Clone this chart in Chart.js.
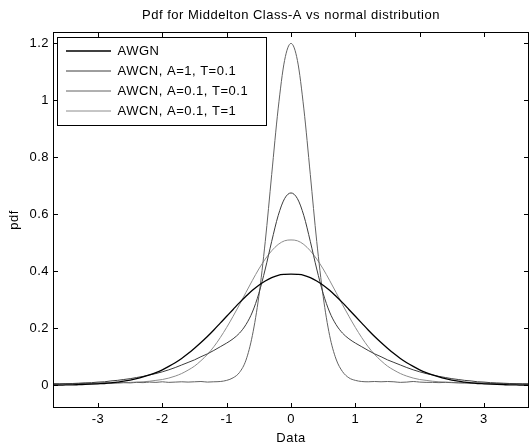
<!DOCTYPE html>
<html>
<head>
<meta charset="utf-8">
<script src="https://cdn.jsdelivr.net/npm/chart.js@4/dist/chart.umd.min.js"></script>
<style>
  html, body { margin: 0; padding: 0; background: #fff; }
  #wrap { width: 530px; height: 445px; }
</style>
</head>
<body>
<div id="wrap"><canvas id="pdfChart"></canvas></div>
<script>
// sample points along the Data axis
const xs = [
  -3.7, -3.6, -3.5, -3.4, -3.3, -3.2, -3.1, -3.0, -2.9, -2.8, -2.7, -2.6, -2.5, -2.4, -2.3, -2.2, -2.1, -2.0, -1.9,
  -1.8, -1.7, -1.6, -1.5, -1.4, -1.3, -1.2, -1.1, -1.0, -0.9, -0.8, -0.7, -0.6, -0.5, -0.4, -0.3, -0.2, -0.1,
  0.0,
  0.1, 0.2, 0.3, 0.4, 0.5, 0.6, 0.7, 0.8, 0.9, 1.0, 1.1, 1.2, 1.3, 1.4, 1.5, 1.6, 1.7, 1.8, 1.9,
  2.0, 2.1, 2.2, 2.3, 2.4, 2.5, 2.6, 2.7, 2.8, 2.9, 3.0, 3.1, 3.2, 3.3, 3.4, 3.5, 3.6, 3.7
];

const awgn = [
  0.000, 0.000, 0.001, 0.001, 0.002, 0.003, 0.004, 0.005, 0.006, 0.008, 0.011, 0.014, 0.018, 0.023, 0.029, 0.036, 0.044, 0.054, 0.066,
  0.079, 0.094, 0.111, 0.130, 0.150, 0.171, 0.194, 0.218, 0.242, 0.266, 0.290, 0.312, 0.333, 0.351, 0.366, 0.378, 0.386, 0.389,
  0.390,
  0.389, 0.386, 0.378, 0.366, 0.351, 0.333, 0.312, 0.290, 0.266, 0.242, 0.218, 0.194, 0.171, 0.150, 0.130, 0.111, 0.094, 0.079, 0.066,
  0.054, 0.044, 0.036, 0.029, 0.023, 0.018, 0.014, 0.011, 0.008, 0.006, 0.005, 0.004, 0.003, 0.002, 0.001, 0.001, 0.000, 0.000
];

const awcnA1T01 = [
  0.004, 0.004, 0.005, 0.006, 0.007, 0.008, 0.009, 0.011, 0.012, 0.015, 0.017, 0.020, 0.023, 0.027, 0.031, 0.036, 0.041, 0.047, 0.054,
  0.062, 0.071, 0.080, 0.089, 0.100, 0.110, 0.122, 0.135, 0.148, 0.163, 0.183, 0.213, 0.257, 0.322, 0.408, 0.505, 0.595, 0.655,
  0.675,
  0.655, 0.595, 0.505, 0.408, 0.322, 0.257, 0.213, 0.183, 0.163, 0.148, 0.135, 0.122, 0.110, 0.100, 0.089, 0.080, 0.071, 0.062, 0.054,
  0.047, 0.041, 0.036, 0.031, 0.027, 0.023, 0.020, 0.017, 0.015, 0.012, 0.011, 0.009, 0.008, 0.007, 0.006, 0.005, 0.004, 0.004
];

const awcnA01T01 = [
  0.006, 0.005, 0.006, 0.005, 0.006, 0.007, 0.006, 0.007, 0.008, 0.007, 0.008, 0.009, 0.008, 0.010, 0.009, 0.011, 0.010, 0.012, 0.010,
  0.011, 0.012, 0.011, 0.012, 0.013, 0.011, 0.012, 0.013, 0.017, 0.026, 0.045, 0.088, 0.175, 0.312, 0.505, 0.740, 0.970, 1.140,
  1.200,
  1.140, 0.970, 0.740, 0.505, 0.312, 0.175, 0.092, 0.048, 0.026, 0.017, 0.013, 0.012, 0.013, 0.012, 0.013, 0.012, 0.010, 0.011, 0.013,
  0.011, 0.010, 0.010, 0.009, 0.010, 0.009, 0.008, 0.008, 0.007, 0.007, 0.007, 0.006, 0.006, 0.006, 0.005, 0.005, 0.005, 0.005
];

const awcnA01T1 = [
  0.004, 0.005, 0.005, 0.005, 0.006, 0.006, 0.006, 0.007, 0.007, 0.008, 0.008, 0.009, 0.010, 0.011, 0.012, 0.014, 0.017, 0.020, 0.025,
  0.032, 0.041, 0.053, 0.067, 0.086, 0.108, 0.135, 0.167, 0.203, 0.242, 0.283, 0.326, 0.368, 0.408, 0.443, 0.472, 0.494, 0.507,
  0.510,
  0.507, 0.494, 0.472, 0.443, 0.408, 0.368, 0.326, 0.283, 0.242, 0.203, 0.167, 0.135, 0.108, 0.086, 0.067, 0.053, 0.041, 0.032, 0.025,
  0.020, 0.017, 0.014, 0.012, 0.011, 0.010, 0.009, 0.008, 0.008, 0.007, 0.007, 0.006, 0.006, 0.006, 0.005, 0.005, 0.005, 0.004
];

const seriesNames = ['AWGN', 'AWCN, A=1, T=0.1', 'AWCN, A=0.1, T=0.1', 'AWCN, A=0.1, T=1'];
const seriesColors = ['#000000', '#3c3c3c', '#626262', '#8c8c8c'];
const seriesWidths = [1.3, 1, 1, 1];

const xTicks = [-3, -2, -1, 0, 1, 2, 3];
const xTickLabels = ['-3', '-2', '-1', '0', '1', '2', '3'];
const yTicks = [0, 0.2, 0.4, 0.6, 0.8, 1, 1.2];
const yTickLabels = ['0', '0.2', '0.4', '0.6', '0.8', '1', '1.2'];

const fontFamily = '"Liberation Sans", Arial, Helvetica, sans-serif';
Chart.defaults.font.family = fontFamily;
Chart.defaults.font.size = 13;
Chart.defaults.color = '#000';

function toPoints(ys) {
    return xs.map((x, i) => ({ x: x, y: ys[i] }));
}

// matlab-ish text is a bit wider than plain Arial
const textSpacing = {
    id: 'textSpacing',
    beforeUpdate(chart) { chart.ctx.letterSpacing = '0.5px'; },
    beforeDraw(chart) { chart.ctx.letterSpacing = '0.5px'; }
};

// put the legend inside the axes, top-left, like the original
const legendShift = {
    id: 'legendShift',
    afterLayout(chart) {
        const a = chart.chartArea;
        const lg = chart.legend;
        lg.left = a.left + 6;
        lg.top = a.top + 5.5;
        lg.right = a.right;
        lg.bottom = a.bottom;
    }
};

// box round the axes with inward ticks on all four sides, plus legend frame
const frameTicks = {
    id: 'frameTicks',
    afterDraw(chart) {
        const { ctx, chartArea: a, scales } = chart;
        const len = 5;
        ctx.save();
        ctx.strokeStyle = '#000';
        ctx.lineWidth = 1;
        ctx.beginPath();
        xTicks.forEach(v => {
            const px = Math.round(scales.x.getPixelForValue(v)) + 0.5;
            ctx.moveTo(px, a.bottom);
            ctx.lineTo(px, a.bottom - len);
            ctx.moveTo(px, a.top);
            ctx.lineTo(px, a.top + len);
        });
        yTicks.forEach(v => {
            const py = Math.round(scales.y.getPixelForValue(v)) + 0.5;
            ctx.moveTo(a.left, py);
            ctx.lineTo(a.left + len, py);
            ctx.moveTo(a.right, py);
            ctx.lineTo(a.right - len, py);
        });
        ctx.stroke();
        ctx.strokeRect(a.left + 0.5, a.top + 0.5, a.right - a.left - 1, a.bottom - a.top - 1);

        const boxes = chart.legend.legendHitBoxes;
        if (boxes && boxes.length) {
            const l = Math.min(...boxes.map(b => b.left));
            const t = Math.min(...boxes.map(b => b.top));
            const r = Math.max(...boxes.map(b => b.left + b.width));
            const b2 = Math.max(...boxes.map(b => b.top + b.height));
            const bl = Math.round(l - 9) + 0.5;
            const bt = Math.round(t - 7.5) + 0.5;
            const br = Math.round(r + 18) + 0.5;
            const bb = Math.round(b2 + 7.5) + 0.5;
            ctx.strokeRect(bl, bt, br - bl, bb - bt);
        }
        ctx.restore();
    }
};

function pdfApp() {
    const ctx = document.getElementById('pdfChart').getContext('2d');
    const sets = [awgn, awcnA1T01, awcnA01T01, awcnA01T1];
    const pdfChart = new Chart(ctx, {
        type: 'line',
        data: {
            datasets: sets.map((ys, i) => ({
                label: seriesNames[i],
                data: toPoints(ys),
                borderColor: seriesColors[i],
                backgroundColor: seriesColors[i],
                borderWidth: seriesWidths[i],
                pointRadius: 0,
                cubicInterpolationMode: 'monotone',
                fill: false
            }))
        },
        options: {
            responsive: true,
            maintainAspectRatio: false,
            animation: false,
            layout: { padding: { top: 0, right: 1, bottom: 0, left: 0 } },
            plugins: {
                legend: {
                    position: 'chartArea',
                    align: 'start',
                    labels: {
                        usePointStyle: true,
                        pointStyle: 'line',
                        pointStyleWidth: 45,
                        padding: 7,
                        color: '#000',
                        font: { size: 13 }
                    }
                },
                tooltip: { enabled: false }
            },
            scales: {
                x: {
                    type: 'linear',
                    position: 'bottom',
                    min: -3.7,
                    max: 3.7,
                    grid: { display: false, drawTicks: false },
                    border: { display: false },
                    afterBuildTicks: s => { s.ticks = xTicks.map(v => ({ value: v })); },
                    ticks: {
                        padding: 4,
                        maxRotation: 0,
                        autoSkip: false,
                        callback: (v, i) => xTickLabels[i]
                    },
                    title: {
                        display: true,
                        text: 'Data',
                        font: { size: 13, lineHeight: 1 },
                        padding: { top: 0, bottom: 0.5 }
                    },
                    afterFit: s => { s.height = 37; }
                },
                xTop: {
                    type: 'linear',
                    position: 'top',
                    min: -3.7,
                    max: 3.7,
                    grid: { display: false, drawTicks: false },
                    border: { display: false },
                    ticks: { display: false },
                    title: {
                        display: true,
                        text: 'Pdf for Middelton Class-A vs normal distribution',
                        font: { size: 13, lineHeight: 1 },
                        padding: { top: 8.5, bottom: 0 }
                    },
                    afterFit: s => { s.height = 32; }
                },
                y: {
                    type: 'linear',
                    position: 'left',
                    min: -0.08,
                    max: 1.24,
                    grid: { display: false, drawTicks: false },
                    border: { display: false },
                    afterBuildTicks: s => { s.ticks = yTicks.map(v => ({ value: v })); },
                    ticks: {
                        padding: 4,
                        autoSkip: false,
                        callback: (v, i) => yTickLabels[i]
                    },
                    title: {
                        display: true,
                        text: 'pdf',
                        font: { size: 13, lineHeight: 1 },
                        padding: { top: 8, bottom: 0 }
                    },
                    afterFit: s => { s.width = 53; }
                }
            }
        },
        plugins: [textSpacing, legendShift, frameTicks]
    });
    return pdfChart;
}

pdfApp();
</script>
</body>
</html>
